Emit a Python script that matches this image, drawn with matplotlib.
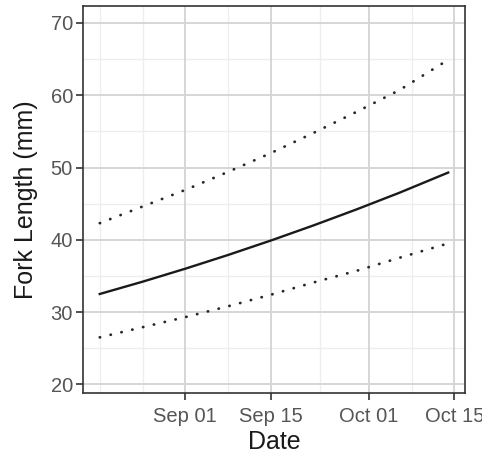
import matplotlib
matplotlib.use("Agg")
import matplotlib.pyplot as plt
import pandas as pd

# weekly readings
dates = pd.to_datetime(["2023-08-18", "2023-08-25", "2023-09-01", "2023-09-08",
                        "2023-09-15", "2023-09-22", "2023-09-29", "2023-10-06",
                        "2023-10-14"])
mean_len = [32.5, 34.2, 36.0, 37.9, 39.9, 42.0, 44.2, 46.5, 49.3]
upper_len = [42.3, 44.6, 46.9, 49.4, 52.0, 54.8, 57.7, 60.7, 64.9]
lower_len = [26.5, 27.9, 29.3, 30.8, 32.4, 34.1, 35.7, 37.5, 39.5]

x_breaks = pd.to_datetime(["2023-09-01", "2023-09-15", "2023-10-01", "2023-10-15"])
x_minor = pd.to_datetime(["2023-08-18", "2023-08-25", "2023-09-08", "2023-09-23",
                          "2023-10-08"])
x_labels = ["Sep 01", "Sep 15", "Oct 01", "Oct 15"]
y_breaks = [20, 30, 40, 50, 60, 70]
y_minor = [25, 35, 45, 55, 65]

plt.rcParams['font.family'] = ['Liberation Sans', 'DejaVu Sans']

fig = plt.figure(figsize=(4.82, 4.57), dpi=100)
ax = fig.add_axes([0.1716, 0.1407, 0.9647 - 0.1716, 0.9869 - 0.1407])

# grid first so lines sit on top
for xm in x_minor:
    ax.axvline(xm, color='#EDEDED', lw=0.9, zorder=0)
for ym in y_minor:
    ax.axhline(ym, color='#EDEDED', lw=0.9, zorder=0)
for xb in x_breaks:
    ax.axvline(xb, color='#D6D6D6', lw=1.4, zorder=0)
for yb in y_breaks:
    ax.axhline(yb, color='#D6D6D6', lw=1.4, zorder=0)

ax.plot(dates, upper_len, color='#262626', lw=2.0,
        linestyle=(0, (0.1, 3.9)), dash_capstyle='round', zorder=3)
ax.plot(dates, lower_len, color='#262626', lw=2.0,
        linestyle=(0, (0.1, 3.9)), dash_capstyle='round', zorder=3)
ax.plot(dates, mean_len, color='#1a1a1a', lw=1.7, zorder=3)

ax.set_xlim(pd.Timestamp("2023-08-15 05:00"), pd.Timestamp("2023-10-16 18:00"))
ax.set_ylim(18.84, 72.35)
ax.set_xticks(x_breaks)
ax.set_xticklabels(x_labels)
ax.set_yticks(y_breaks)

ax.tick_params(axis='both', colors='#333333', length=5, width=1.2,
               labelsize=14.5, labelcolor='#555555')
ax.tick_params(axis='x', pad=5)
ax.tick_params(axis='y', pad=2)
for s in ax.spines.values():
    s.set_color('#333333')
    s.set_linewidth(1.2)

ax.set_xlabel("Date", fontsize=18, color='#1a1a1a', labelpad=3)
ax.set_ylabel("Fork Length (mm)", fontsize=18, color='#1a1a1a', labelpad=9)

fig.savefig("out.png", dpi=100)
